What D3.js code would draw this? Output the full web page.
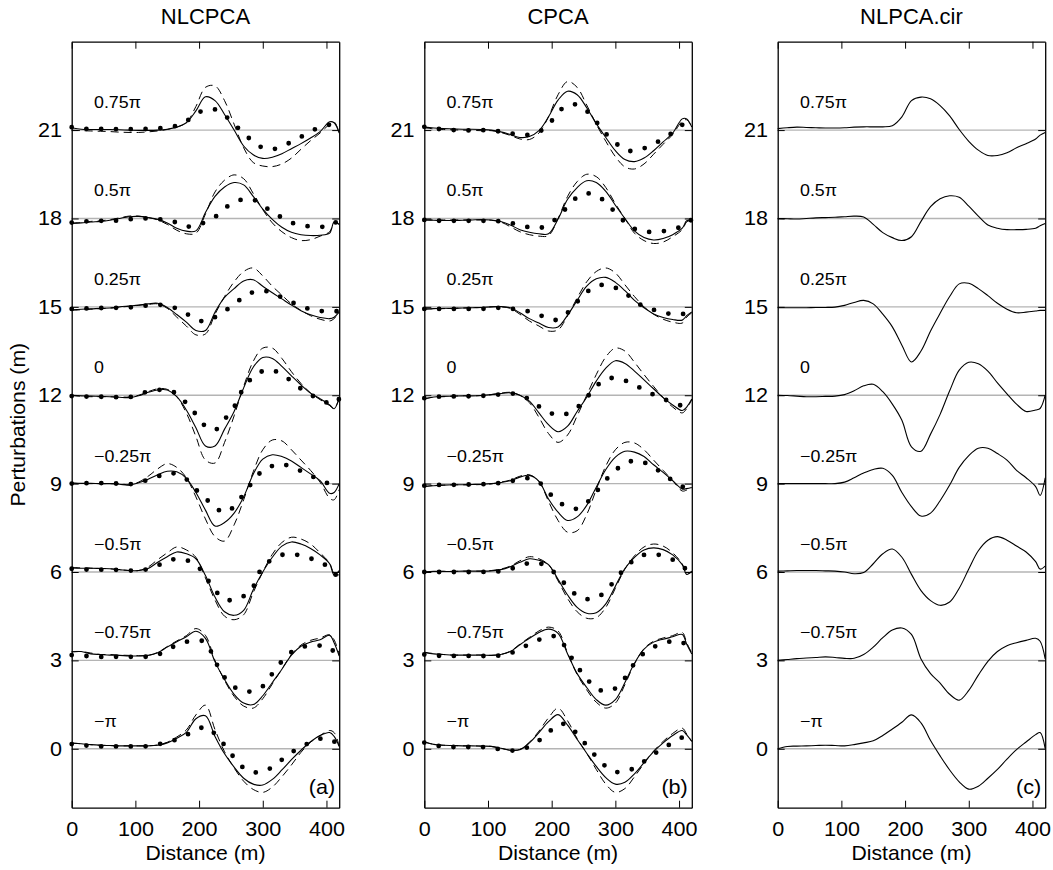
<!DOCTYPE html>
<html><head><meta charset="utf-8">
<script src="https://cdn.jsdelivr.net/npm/d3@7/dist/d3.min.js"></script>
<style>
body{margin:0;background:#fff}
svg{display:block}
text{font-family:"Liberation Sans",Arial,Helvetica,sans-serif;fill:#000}
</style>
</head><body>
<svg id="chart" width="1053" height="870"></svg>
<script>
// ---------------- data ----------------
const distance = [0,15,30,45,60,75,90,105,120,135,150,165,180,195,210,225,240,255,270,285,300,315,330,345,360,375,390,405,412,420];
const phaseLabels = ["\u2212\u03c0","\u22120.75\u03c0","\u22120.5\u03c0","\u22120.25\u03c0","0","0.25\u03c0","0.5\u03c0","0.75\u03c0"];
const offsets = [0,3,6,9,12,15,18,21];
const yTicks = [0,3,6,9,12,15,18,21];
const xTicks = [0,100,200,300,400];
const panelTitles = ["NLCPCA","CPCA","NLPCA.cir"];
const panelTags = ["(a)","(b)","(c)"];

// (a) NLCPCA — perturbation relative to each curve's offset, order as phaseLabels
const nlcpcaSolid = [
 [0.19,0.17,0.14,0.12,0.11,0.10,0.10,0.10,0.10,0.12,0.20,0.36,0.56,1.02,1.12,0.42,-0.17,-0.62,-1.00,-1.20,-1.23,-1.04,-0.72,-0.37,-0.05,0.24,0.45,0.55,0.42,0.08],
 [0.29,0.30,0.22,0.20,0.18,0.17,0.15,0.15,0.17,0.26,0.45,0.63,0.80,0.99,0.75,-0.05,-0.65,-1.15,-1.45,-1.50,-1.20,-0.75,-0.30,0.18,0.48,0.62,0.70,0.85,0.60,0.15],
 [0.14,0.13,0.13,0.12,0.11,0.08,0.05,0.05,0.12,0.33,0.52,0.68,0.62,0.45,-0.12,-0.85,-1.35,-1.47,-1.30,-0.60,0.00,0.50,0.88,1.02,0.95,0.80,0.58,0.28,-0.10,0.05],
 [0.02,0.01,0.01,0.00,0.00,-0.02,-0.05,0.03,0.15,0.30,0.42,0.40,0.18,-0.30,-0.90,-1.44,-1.32,-1.00,-0.45,0.32,0.83,0.98,0.92,0.77,0.55,0.33,0.10,-0.33,-0.30,0.00],
 [0.00,-0.02,-0.03,-0.04,-0.05,-0.07,-0.08,-0.02,0.10,0.18,0.18,-0.05,-0.50,-1.10,-1.72,-1.72,-1.15,-0.55,0.25,0.95,1.28,1.25,0.98,0.66,0.35,0.07,-0.12,-0.33,-0.46,-0.10],
 [-0.10,-0.08,-0.07,-0.05,-0.04,0.00,0.03,0.06,0.10,0.12,-0.02,-0.26,-0.52,-0.80,-0.80,-0.18,0.32,0.62,0.88,0.92,0.70,0.48,0.27,0.06,-0.13,-0.27,-0.36,-0.40,-0.35,-0.18],
 [-0.17,-0.15,-0.12,-0.10,-0.06,0.00,0.06,0.07,0.03,-0.03,-0.15,-0.33,-0.43,-0.42,0.20,0.75,1.07,1.22,1.14,0.75,0.32,-0.03,-0.30,-0.47,-0.55,-0.58,-0.57,-0.50,-0.12,-0.20],
 [0.08,0.03,0.02,0.02,0.02,0.01,0.00,-0.01,-0.01,0.00,0.03,0.10,0.25,0.65,1.13,1.00,0.53,0.00,-0.54,-0.84,-0.96,-0.92,-0.80,-0.63,-0.46,-0.27,-0.05,0.28,0.25,-0.10]
];
const nlcpcaDashed = [
 [0.20,0.17,0.14,0.12,0.11,0.10,0.10,0.10,0.10,0.13,0.22,0.40,0.64,1.15,1.48,0.65,-0.10,-0.65,-1.10,-1.38,-1.48,-1.30,-0.95,-0.55,-0.12,0.22,0.45,0.62,0.55,0.10],
 [0.30,0.30,0.25,0.20,0.20,0.18,0.17,0.16,0.17,0.27,0.47,0.66,0.84,1.08,0.85,0.00,-0.68,-1.22,-1.55,-1.62,-1.30,-0.80,-0.30,0.20,0.52,0.68,0.76,0.87,0.70,0.20],
 [0.15,0.14,0.13,0.12,0.11,0.08,0.05,0.05,0.17,0.42,0.65,0.85,0.75,0.50,-0.20,-0.95,-1.50,-1.62,-1.45,-0.70,0.00,0.60,1.00,1.18,1.12,0.95,0.65,0.30,-0.05,-0.10],
 [0.02,0.00,0.00,0.00,0.00,0.00,-0.04,0.05,0.25,0.50,0.68,0.55,0.20,-0.45,-1.20,-1.80,-1.95,-1.40,-0.55,0.40,1.15,1.48,1.45,1.15,0.80,0.45,0.05,-0.50,-0.55,-0.20],
 [0.00,-0.04,-0.05,-0.05,-0.05,-0.06,-0.06,0.00,0.12,0.22,0.20,-0.05,-0.60,-1.40,-2.20,-2.30,-1.60,-0.70,0.30,1.15,1.60,1.60,1.25,0.80,0.40,0.08,-0.15,-0.35,-0.45,-0.10],
 [-0.12,-0.10,-0.08,-0.06,-0.04,-0.01,0.02,0.05,0.08,0.10,-0.05,-0.35,-0.65,-0.95,-0.92,-0.25,0.35,0.85,1.20,1.32,1.05,0.70,0.40,0.10,-0.12,-0.30,-0.42,-0.48,-0.40,-0.20],
 [-0.15,-0.14,-0.10,-0.08,-0.04,0.02,0.08,0.08,0.03,-0.05,-0.20,-0.40,-0.52,-0.50,0.15,0.90,1.30,1.48,1.35,0.85,0.30,-0.15,-0.45,-0.65,-0.75,-0.72,-0.60,-0.45,-0.15,-0.20],
 [0.00,-0.02,-0.03,-0.04,-0.05,-0.07,-0.08,-0.08,-0.06,-0.03,0.02,0.10,0.25,0.80,1.45,1.50,1.00,0.20,-0.60,-1.10,-1.22,-1.24,-1.15,-0.95,-0.65,-0.36,-0.10,0.20,0.28,-0.10]
];
const nlcpcaDotted = [
 [0.16,0.12,0.10,0.08,0.08,0.08,0.08,0.08,0.09,0.15,0.22,0.32,0.47,0.61,0.75,0.50,0.12,-0.30,-0.65,-0.79,-0.78,-0.62,-0.37,-0.12,0.04,0.23,0.34,0.33,0.25,0.08],
 [0.18,0.16,0.14,0.12,0.12,0.12,0.12,0.12,0.13,0.19,0.36,0.52,0.63,0.67,0.62,-0.02,-0.58,-0.90,-1.04,-1.04,-0.88,-0.45,-0.03,0.28,0.44,0.50,0.50,0.45,0.28,0.15],
 [0.11,0.09,0.08,0.08,0.08,0.07,0.05,0.06,0.10,0.22,0.38,0.44,0.40,0.25,-0.15,-0.62,-0.92,-0.95,-0.82,-0.50,0.20,0.42,0.58,0.60,0.56,0.46,0.35,0.12,-0.05,-0.17],
 [0.00,0.01,0.02,0.02,0.01,0.00,-0.02,0.04,0.13,0.24,0.36,0.32,0.15,-0.20,-0.50,-0.80,-0.98,-0.78,-0.35,0.08,0.45,0.60,0.67,0.55,0.43,0.28,0.10,0.00,-0.02,-0.02],
 [-0.03,-0.04,-0.05,-0.05,-0.06,-0.07,-0.07,0.03,0.13,0.18,0.17,0.05,-0.27,-0.65,-1.05,-1.18,-0.82,-0.40,0.25,0.62,0.82,0.85,0.70,0.48,0.22,0.02,-0.15,-0.28,-0.30,-0.12],
 [-0.07,-0.06,-0.05,-0.04,-0.04,-0.03,-0.02,0.01,0.05,0.07,0.04,-0.06,-0.23,-0.41,-0.50,-0.35,-0.15,0.09,0.33,0.50,0.55,0.47,0.32,0.16,0.04,-0.09,-0.14,-0.15,-0.15,-0.15],
 [-0.14,-0.11,-0.09,-0.08,-0.08,-0.07,-0.03,0.00,0.00,-0.02,-0.06,-0.14,-0.27,-0.24,-0.12,0.05,0.34,0.55,0.65,0.64,0.44,0.22,0.03,-0.14,-0.23,-0.27,-0.28,-0.27,-0.15,-0.12],
 [0.10,0.05,0.04,0.04,0.04,0.03,0.03,0.03,0.04,0.06,0.08,0.15,0.30,0.55,0.68,0.70,0.50,0.20,-0.10,-0.40,-0.60,-0.65,-0.55,-0.40,-0.23,-0.05,0.10,0.18,0.16,0.14]
];

// (b) CPCA
const cpcaSolid = [
 [0.23,0.15,0.12,0.11,0.10,0.10,0.09,0.08,0.02,-0.05,-0.03,0.20,0.55,0.92,1.16,0.80,0.32,-0.15,-0.60,-0.98,-1.20,-1.14,-0.85,-0.47,-0.10,0.20,0.45,0.62,0.47,0.25],
 [0.27,0.22,0.20,0.18,0.18,0.18,0.18,0.17,0.20,0.30,0.53,0.75,0.95,1.06,0.92,0.22,-0.45,-0.92,-1.33,-1.52,-1.33,-0.75,-0.10,0.38,0.62,0.72,0.80,0.88,0.55,0.22],
 [0.00,0.02,0.02,0.02,0.03,0.03,0.03,0.04,0.08,0.18,0.33,0.45,0.40,0.25,-0.25,-0.78,-1.20,-1.40,-1.38,-1.08,-0.48,0.12,0.50,0.75,0.82,0.76,0.58,0.25,-0.08,0.03],
 [-0.10,-0.07,-0.05,-0.04,-0.04,-0.03,-0.02,0.00,0.04,0.10,0.22,0.28,0.08,-0.52,-0.97,-1.25,-1.13,-0.74,-0.12,0.48,0.90,1.10,1.07,0.92,0.64,0.38,0.10,-0.18,-0.17,-0.13],
 [-0.13,-0.06,-0.04,-0.03,-0.02,-0.02,-0.01,0.02,0.06,0.08,0.00,-0.20,-0.60,-1.00,-1.24,-1.05,-0.55,-0.07,0.48,0.92,1.17,1.08,0.82,0.52,0.22,-0.08,-0.33,-0.52,-0.40,-0.13],
 [-0.07,-0.06,-0.05,-0.05,-0.04,-0.03,-0.02,0.00,0.01,-0.03,-0.20,-0.40,-0.55,-0.70,-0.68,-0.28,0.22,0.70,0.95,1.00,0.83,0.55,0.22,-0.03,-0.24,-0.36,-0.43,-0.45,-0.30,-0.17],
 [-0.05,-0.06,-0.07,-0.07,-0.06,-0.05,-0.04,-0.05,-0.10,-0.22,-0.38,-0.47,-0.52,-0.52,-0.02,0.65,1.05,1.28,1.22,0.92,0.45,0.00,-0.42,-0.65,-0.73,-0.68,-0.55,-0.33,-0.08,-0.05],
 [0.10,0.07,0.05,0.04,0.03,0.03,0.02,0.00,-0.06,-0.15,-0.25,-0.22,-0.02,0.45,1.02,1.32,1.20,0.76,0.22,-0.25,-0.70,-1.00,-1.07,-0.95,-0.70,-0.40,-0.10,0.38,0.38,0.10]
];
const cpcaDashed = [
 [0.23,0.15,0.12,0.11,0.10,0.10,0.09,0.08,0.02,-0.05,-0.02,0.22,0.60,1.05,1.38,0.95,0.35,-0.15,-0.70,-1.20,-1.48,-1.35,-0.95,-0.50,-0.08,0.25,0.52,0.70,0.50,0.25],
 [0.28,0.23,0.20,0.18,0.18,0.18,0.18,0.17,0.20,0.31,0.55,0.78,1.00,1.13,1.00,0.25,-0.48,-1.00,-1.42,-1.62,-1.45,-0.82,-0.12,0.40,0.65,0.76,0.84,0.95,0.60,0.25],
 [0.00,0.02,0.02,0.02,0.03,0.03,0.03,0.05,0.10,0.20,0.38,0.52,0.45,0.25,-0.30,-0.90,-1.35,-1.57,-1.55,-1.20,-0.55,0.10,0.55,0.85,0.95,0.88,0.65,0.28,-0.05,0.00],
 [-0.10,-0.06,-0.05,-0.04,-0.04,-0.04,-0.03,-0.01,0.05,0.12,0.25,0.30,0.08,-0.60,-1.25,-1.65,-1.60,-1.05,-0.20,0.60,1.15,1.40,1.38,1.15,0.80,0.45,0.10,-0.25,-0.22,-0.15],
 [-0.12,-0.06,-0.05,-0.03,-0.02,-0.02,-0.01,0.02,0.07,0.10,0.00,-0.25,-0.75,-1.30,-1.60,-1.35,-0.70,0.00,0.70,1.30,1.60,1.50,1.12,0.70,0.30,-0.08,-0.40,-0.60,-0.45,-0.15],
 [-0.08,-0.07,-0.06,-0.05,-0.04,-0.03,-0.02,0.00,0.00,-0.05,-0.25,-0.48,-0.65,-0.82,-0.78,-0.30,0.30,0.85,1.20,1.32,1.15,0.75,0.35,0.00,-0.25,-0.42,-0.52,-0.55,-0.35,-0.20],
 [-0.05,-0.05,-0.05,-0.05,-0.05,-0.05,-0.05,-0.06,-0.12,-0.28,-0.45,-0.55,-0.60,-0.58,0.00,0.75,1.25,1.50,1.42,1.05,0.50,0.00,-0.50,-0.75,-0.85,-0.80,-0.62,-0.38,-0.12,-0.05],
 [0.08,0.04,0.02,0.01,0.00,-0.01,-0.02,-0.02,-0.08,-0.18,-0.30,-0.32,-0.10,0.45,1.20,1.65,1.45,0.85,0.20,-0.38,-0.90,-1.25,-1.32,-1.15,-0.82,-0.48,-0.15,0.30,0.35,0.10]
];
const cpcaDotted = [
 [0.21,0.12,0.08,0.06,0.06,0.06,0.06,0.03,-0.02,-0.06,-0.03,0.08,0.28,0.55,0.83,0.81,0.50,0.11,-0.27,-0.60,-0.78,-0.77,-0.65,-0.43,-0.19,0.03,0.20,0.38,0.30,0.25],
 [0.20,0.17,0.15,0.15,0.15,0.15,0.15,0.15,0.17,0.24,0.40,0.55,0.70,0.80,0.80,0.30,-0.20,-0.62,-0.95,-1.05,-0.95,-0.60,-0.10,0.25,0.45,0.58,0.65,0.62,0.45,0.25],
 [0.00,0.00,0.00,0.00,0.00,0.00,0.00,0.01,0.03,0.10,0.22,0.30,0.30,0.15,-0.15,-0.50,-0.80,-0.92,-0.88,-0.65,-0.25,0.12,0.42,0.58,0.60,0.55,0.42,0.22,0.08,0.02],
 [-0.07,-0.05,-0.04,-0.04,-0.03,-0.03,-0.02,-0.02,0.03,0.08,0.15,0.18,0.05,-0.30,-0.60,-0.80,-0.85,-0.65,-0.28,0.12,0.45,0.68,0.78,0.72,0.55,0.33,0.10,-0.10,-0.12,-0.12],
 [-0.10,-0.05,-0.05,-0.04,-0.04,-0.03,-0.02,0.00,0.03,0.06,0.02,-0.15,-0.38,-0.57,-0.68,-0.62,-0.42,-0.08,0.30,0.55,0.58,0.50,0.35,0.18,0.02,-0.12,-0.25,-0.35,-0.30,-0.20],
 [-0.07,-0.07,-0.07,-0.07,-0.07,-0.07,-0.07,-0.05,-0.03,-0.06,-0.10,-0.16,-0.26,-0.42,-0.43,-0.20,0.17,0.50,0.70,0.75,0.65,0.47,0.22,0.00,-0.10,-0.19,-0.25,-0.25,-0.17,-0.12],
 [-0.05,-0.07,-0.08,-0.08,-0.08,-0.08,-0.08,-0.08,-0.10,-0.15,-0.22,-0.30,-0.33,-0.20,0.05,0.40,0.72,0.85,0.78,0.55,0.20,-0.12,-0.35,-0.45,-0.45,-0.43,-0.38,-0.25,-0.12,-0.05],
 [0.11,0.06,0.02,0.00,-0.01,-0.01,0.00,-0.02,-0.05,-0.11,-0.16,-0.16,-0.06,0.18,0.60,0.85,0.86,0.65,0.28,-0.12,-0.43,-0.67,-0.71,-0.62,-0.47,-0.30,-0.08,0.18,0.22,0.10]
];

// (c) NLPCA.cir
const nlpcaCirSolid = [
 [0.00,0.08,0.09,0.10,0.11,0.12,0.11,0.10,0.14,0.20,0.27,0.45,0.67,0.90,1.15,0.88,0.28,-0.24,-0.72,-1.12,-1.37,-1.27,-1.00,-0.70,-0.35,-0.03,0.23,0.48,0.55,0.00],
 [0.00,0.03,0.06,0.08,0.10,0.12,0.10,0.07,0.07,0.20,0.45,0.77,1.03,1.10,0.88,0.05,-0.45,-0.77,-1.15,-1.35,-1.02,-0.50,-0.03,0.30,0.50,0.60,0.68,0.75,0.65,0.05],
 [0.03,0.04,0.05,0.05,0.05,0.04,0.03,0.00,-0.06,-0.02,0.28,0.62,0.78,0.50,-0.08,-0.63,-0.97,-1.13,-1.02,-0.55,0.10,0.72,1.08,1.20,1.08,0.88,0.68,0.35,0.10,0.20],
 [0.00,0.00,0.00,0.00,0.00,0.00,0.00,0.05,0.20,0.36,0.48,0.52,0.28,-0.30,-0.78,-1.10,-1.00,-0.58,-0.05,0.55,0.95,1.20,1.20,1.02,0.80,0.45,0.20,-0.10,-0.40,0.20],
 [0.00,-0.01,-0.03,-0.05,-0.05,-0.04,-0.03,0.02,0.15,0.32,0.37,0.12,-0.30,-0.85,-1.75,-1.90,-1.32,-0.65,0.15,0.85,1.12,1.07,0.82,0.42,0.05,-0.30,-0.55,-0.50,-0.45,0.00],
 [-0.03,-0.03,-0.03,-0.03,-0.02,-0.02,-0.01,0.05,0.15,0.22,0.10,-0.25,-0.68,-1.30,-1.87,-1.50,-0.82,-0.22,0.35,0.78,0.80,0.62,0.38,0.12,-0.08,-0.20,-0.18,-0.14,-0.12,-0.12],
 [0.00,-0.01,-0.02,0.00,0.02,0.03,0.04,0.06,0.08,0.05,-0.20,-0.48,-0.65,-0.75,-0.62,-0.10,0.40,0.67,0.77,0.72,0.42,0.08,-0.22,-0.33,-0.38,-0.38,-0.37,-0.33,-0.25,-0.17],
 [0.05,0.08,0.10,0.09,0.08,0.07,0.07,0.08,0.10,0.11,0.11,0.11,0.15,0.45,1.00,1.12,1.06,0.83,0.48,0.02,-0.38,-0.68,-0.86,-0.86,-0.77,-0.60,-0.46,-0.30,-0.17,-0.08]
];

// ---------------- drawing ----------------
const svg = d3.select("#chart");
const panelLeft = [71.7, 424.3, 777.7];
const panelW = 267.5, topY = 41.7, bottomY = 807.7;
const panels = [
  {title: panelTitles[0], tag: panelTags[0], solid: nlcpcaSolid, dashed: nlcpcaDashed, dotted: nlcpcaDotted},
  {title: panelTitles[1], tag: panelTags[1], solid: cpcaSolid, dashed: cpcaDashed, dotted: cpcaDotted},
  {title: panelTitles[2], tag: panelTags[2], solid: nlpcaCirSolid, dashed: null, dotted: null}
];
const SX = "scale(1.08,1)";

panels.forEach((p, pi) => {
  const L = panelLeft[pi];
  const x = d3.scaleLinear().domain([0, 420]).range([L, L + panelW]);
  const y = d3.scaleLinear().domain([-2, 24]).range([bottomY, topY]);
  const g = svg.append("g");

  g.selectAll("line.ref").data(offsets).join("line")
    .attr("x1", x(0)).attr("x2", x(420))
    .attr("y1", d => y(d)).attr("y2", d => y(d))
    .attr("stroke", "#b4b4b4").attr("stroke-width", 1.4);

  const lineFor = off => d3.line()
    .x((v, i) => x(distance[i]))
    .y(v => y(off + v))
    .curve(d3.curveCatmullRom.alpha(0.5));

  offsets.forEach((off, k) => {
    if (p.dotted) {
      g.append("path").attr("d", lineFor(off)(p.dotted[k]))
        .attr("fill", "none").attr("stroke", "#000").attr("stroke-width", 4.8)
        .attr("stroke-linecap", "round").attr("stroke-dasharray", "0 14.8");
    }
    if (p.dashed) {
      g.append("path").attr("d", lineFor(off)(p.dashed[k]))
        .attr("fill", "none").attr("stroke", "#000").attr("stroke-width", 1)
        .attr("stroke-dasharray", "8 5");
    }
    g.append("path").attr("d", lineFor(off)(p.solid[k]))
      .attr("fill", "none").attr("stroke", "#000").attr("stroke-width", 1.1);

    g.append("text")
      .attr("transform", `translate(${x(35)},${y(off + 0.75)}) ${SX}`)
      .attr("font-size", 16.5).text(phaseLabels[k]);
  });

  const ax = svg.append("g").attr("class", "axes");
  ax.append("g").attr("transform", `translate(0,${bottomY})`)
    .call(d3.axisBottom(x).tickValues(xTicks).tickSize(-7).tickSizeOuter(0).tickPadding(14));
  ax.append("g").attr("transform", `translate(0,${topY})`)
    .call(d3.axisTop(x).tickValues(xTicks).tickSize(-7).tickSizeOuter(0).tickFormat(""));
  ax.append("g").attr("transform", `translate(${L},0)`)
    .call(d3.axisLeft(y).tickValues(yTicks).tickSize(-7).tickSizeOuter(0).tickPadding(9));
  ax.append("g").attr("transform", `translate(${L + panelW},0)`)
    .call(d3.axisRight(y).tickValues(yTicks).tickSize(-7).tickSizeOuter(0).tickFormat(""));
  ax.selectAll(".domain").attr("stroke", "#000").attr("stroke-width", 1.3);
  ax.selectAll(".tick line").attr("stroke", "#000").attr("stroke-width", 1);
  ax.selectAll("text").attr("font-size", 20).attr("font-family", '"Liberation Sans",Arial,sans-serif')
    .attr("fill", "#000").attr("transform", SX);

  svg.append("text").attr("x", L + panelW / 2).attr("y", 24)
    .attr("text-anchor", "middle").attr("font-size", 22).text(p.title);
  svg.append("text")
    .attr("transform", `translate(${L + panelW / 2},860) scale(1.06,1)`)
    .attr("text-anchor", "middle").attr("font-size", 20).text("Distance (m)");
  svg.append("text")
    .attr("transform", `translate(${L + panelW - 4},${y(-1.55)}) ${SX}`)
    .attr("text-anchor", "end").attr("font-size", 20).text(p.tag);
});

svg.append("text")
  .attr("transform", `translate(25,${(topY + bottomY) / 2}) rotate(-90) scale(1.06,1)`)
  .attr("text-anchor", "middle").attr("font-size", 20).text("Perturbations (m)");
</script>
</body></html>
